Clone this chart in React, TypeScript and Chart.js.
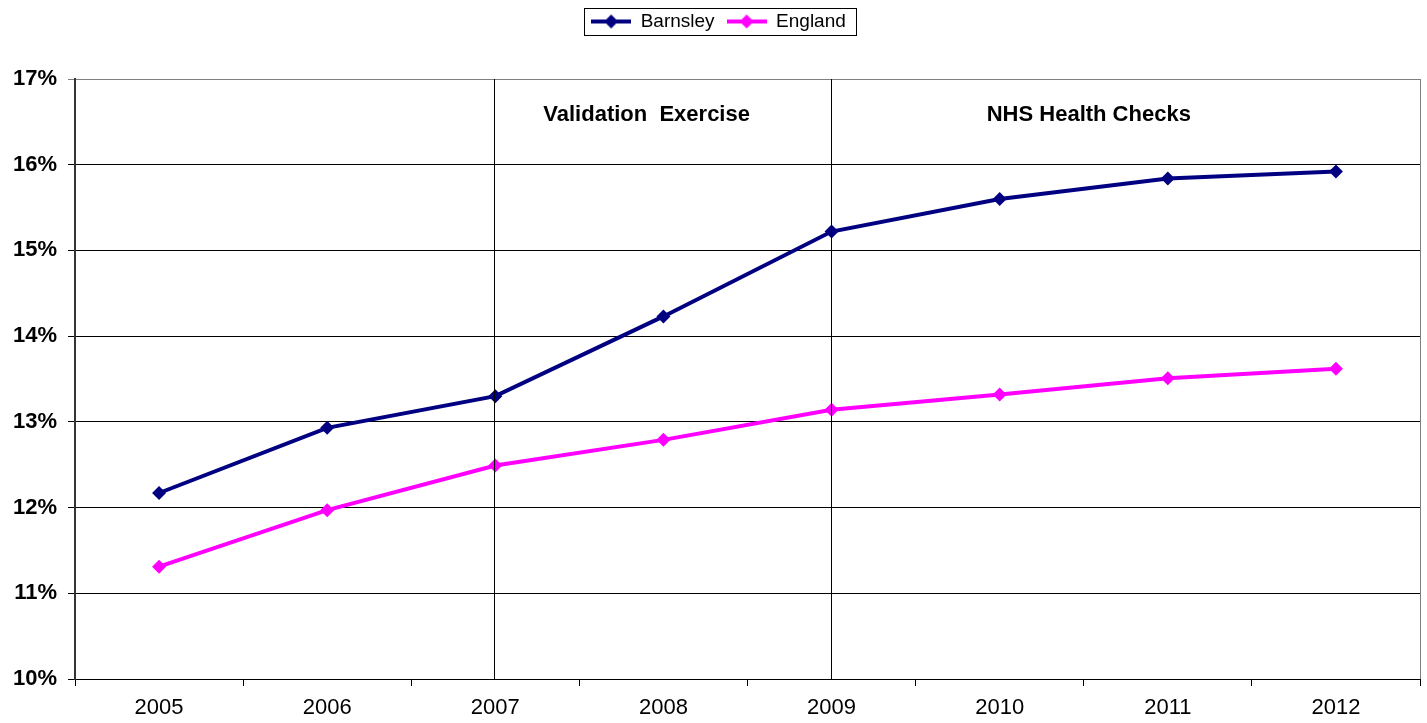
import React, { useEffect, useRef } from "react";
import { Chart, registerables } from "chart.js";

Chart.register(...registerables);

const years = ["2005", "2006", "2007", "2008", "2009", "2010", "2011", "2012"];
const barnsley = [12.17, 12.93, 13.3, 14.23, 15.22, 15.6, 15.84, 15.92];
const england = [11.31, 11.97, 12.49, 12.79, 13.14, 13.32, 13.51, 13.62];
const yTicks = [10, 11, 12, 13, 14, 15, 16, 17];
const phaseLines = [2, 4]; // category indices 2007, 2009
const phaseLabels = ["Validation  Exercise", "NHS Health Checks"];
const phaseLabelX = [2.9, 5.53];
const phaseLabelY = 16.58;

const FONT = "Arial, 'Liberation Sans', Helvetica, sans-serif";

function makeMarker(color: string): HTMLCanvasElement {
  const c = document.createElement("canvas");
  c.width = 40;
  c.height = 16;
  const ctx = c.getContext("2d")!;
  ctx.strokeStyle = color;
  ctx.lineWidth = 4;
  ctx.beginPath();
  ctx.moveTo(0, 8);
  ctx.lineTo(40, 8);
  ctx.stroke();
  ctx.fillStyle = color;
  ctx.beginPath();
  ctx.moveTo(20, 1);
  ctx.lineTo(27, 8);
  ctx.lineTo(20, 15);
  ctx.lineTo(13, 8);
  ctx.closePath();
  ctx.fill();
  return c;
}

export default function App() {
  const ref = useRef<HTMLCanvasElement>(null);

  useEffect(() => {
    document.body.style.margin = "0";
    const markers = [makeMarker("#000080"), makeMarker("#FF00FF")];
    const LEGEND_SHIFT = 8;

    const overlay = {
      id: "overlay",
      afterUpdate(chart: any) {
        const lg = chart.legend;
        if (lg) {
          lg.left += LEGEND_SHIFT;
          lg.right += LEGEND_SHIFT;
          (lg.legendHitBoxes || []).forEach((b: any) => {
            b.left += LEGEND_SHIFT;
          });
        }
      },
      afterDraw(chart: any) {
        const { ctx, chartArea } = chart;
        const xs = chart.scales.x;
        const ys = chart.scales.y;
        ctx.save();
        ctx.strokeStyle = "#000000";
        ctx.lineWidth = 1;
        phaseLines.forEach((i) => {
          const x = Math.round(xs.getPixelForValue(i)) - 0.5;
          ctx.beginPath();
          ctx.moveTo(x, chartArea.top);
          ctx.lineTo(x, chartArea.bottom);
          ctx.stroke();
        });
        ctx.strokeStyle = "#808080";
        ctx.beginPath();
        ctx.moveTo(chartArea.right + 0.5, chartArea.top);
        ctx.lineTo(chartArea.right + 0.5, chartArea.bottom);
        ctx.stroke();
        ctx.fillStyle = "#000000";
        ctx.font = `bold 22px ${FONT}`;
        ctx.textAlign = "center";
        ctx.textBaseline = "middle";
        phaseLabels.forEach((t, i) => {
          ctx.fillText(t, xs.getPixelForValue(phaseLabelX[i]), ys.getPixelForValue(phaseLabelY));
        });
        const boxes = chart.legend?.legendHitBoxes;
        if (boxes && boxes.length) {
          const first = boxes[0];
          const last = boxes[boxes.length - 1];
          const l = first.left - 7;
          const r = last.left + last.width + 10;
          const cy = first.top + first.height / 2;
          ctx.strokeStyle = "#000000";
          ctx.lineWidth = 1;
          ctx.strokeRect(Math.round(l) + 0.5, Math.round(cy - 13.5) + 0.5, Math.round(r - l), 27);
        }
        ctx.restore();
      },
    };

    const chart = new Chart(ref.current!, {
      type: "line",
      data: {
        labels: years,
        datasets: [
          {
            label: "Barnsley",
            data: barnsley,
            borderColor: "#000080",
            backgroundColor: "#000080",
            borderWidth: 4,
            pointStyle: "rectRot",
            pointRadius: 7,
            pointBorderWidth: 0,
            tension: 0,
          },
          {
            label: "England",
            data: england,
            borderColor: "#FF00FF",
            backgroundColor: "#FF00FF",
            borderWidth: 4,
            pointStyle: "rectRot",
            pointRadius: 7,
            pointBorderWidth: 0,
            tension: 0,
          },
        ],
      },
      options: {
        animation: false,
        responsive: false,
        layout: { padding: { left: 0, right: 6, top: 0, bottom: 0 } },
        plugins: {
          tooltip: { enabled: false },
          legend: {
            display: true,
            position: "top",
            labels: {
              usePointStyle: true,
              pointStyleWidth: 40,
              boxHeight: 16,
              padding: 12,
              color: "#000000",
              font: { family: FONT, size: 19 },
              generateLabels: (chart: any) =>
                chart.data.datasets.map((ds: any, i: number) => ({
                  text: ds.label,
                  pointStyle: markers[i],
                  fillStyle: ds.borderColor,
                  strokeStyle: ds.borderColor,
                  lineWidth: 0,
                  hidden: false,
                  datasetIndex: i,
                  fontColor: "#000000",
                })),
            },
          },
        },
        scales: {
          x: {
            type: "category",
            offset: true,
            grid: {
              offset: true,
              drawOnChartArea: false,
              drawTicks: true,
              tickLength: 7,
              color: "#000000",
            },
            border: { color: "#000000", width: 1 },
            ticks: {
              color: "#000000",
              padding: 9,
              font: { family: FONT, size: 22 },
              maxRotation: 0,
            },
            afterFit: (s: any) => {
              s.height = 44;
            },
          },
          y: {
            min: 10,
            max: 17,
            afterBuildTicks: (s: any) => {
              s.ticks = yTicks.map((v) => ({ value: v }));
            },
            grid: {
              color: (c: any) => (c.tick && c.tick.value === 17 ? "#808080" : "#000000"),
              lineWidth: 1,
              tickLength: 7,
              drawTicks: true,
            },
            border: { color: "#333333", width: 2 },
            ticks: {
              color: "#000000",
              padding: 11,
              font: { family: FONT, size: 22, weight: "bold" },
              callback: (v: any) => `${v}%`,
            },
            afterFit: (s: any) => {
              s.width = 75;
            },
          },
        },
      },
      plugins: [
        overlay,
        {
          id: "legendHeight",
          beforeInit(chart: any) {
            const lg = chart.legend;
            if (lg) {
              const fit = lg.fit;
              lg.fit = function () {
                fit.call(lg);
                lg.height = 79;
              };
            }
          },
        },
      ],
    } as any);
    return () => chart.destroy();
  }, []);

  return (
    <div style={{ width: 1427, height: 723 }}>
      <canvas ref={ref} width={1427} height={723} style={{ display: "block" }} />
    </div>
  );
}
